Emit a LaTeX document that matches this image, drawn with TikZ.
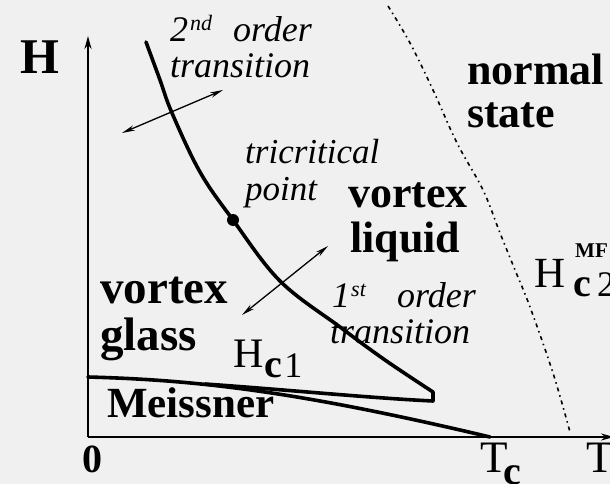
\documentclass[tikz,border=0pt]{standalone}
\usepackage{fontspec}
\setmainfont{Liberation Serif}
\usetikzlibrary{arrows.meta}
\definecolor{bgcol}{RGB}{240,240,240}
\begin{document}
\begin{tikzpicture}[x=1pt,y=-1pt,
  axisline/.style={line width=1.8pt, -{Stealth[length=13pt,width=7pt]}},
  transline/.style={line width=3.6pt, line join=round, line cap=round},
  hcline/.style={line width=3.6pt, line cap=round},
  dblarrow/.style={line width=1.3pt, {Stealth[length=13pt,width=5.5pt]}-{Stealth[length=13pt,width=5.5pt]}},
  mfline/.style={line width=1.6pt, dash pattern=on 4pt off 4pt on 1.5pt off 4pt},
  boldlbl/.style={anchor=base west, inner sep=0pt, font=\fontsize{44}{48}\selectfont\bfseries},
  itlbl/.style={anchor=base west, inner sep=0pt, font=\fontsize{36}{40}\selectfont\itshape},
  mathlbl/.style={anchor=base west, inner sep=0pt, font=\fontsize{44}{48}\selectfont}]
\fill[bgcol] (0,0) rectangle (610,484);
\useasboundingbox (0,0) rectangle (610,484);

% axes
\coordinate (origin) at (88,437);
\coordinate (htop) at (88,36);
\coordinate (tright) at (614,437);
\draw[axisline] (origin) -- (htop);
\draw[axisline] (origin) -- (tright);

% mean-field Hc2 (dotted)
\draw[mfline] plot[smooth, tension=0.6] coordinates {(388,6) (410,43) (433,90) (457,143) (483,190) (500,233) (515,270) (530,307) (553,373) (570,432)};

% Hc1 line
\coordinate (hc1start) at (88,377);
\coordinate (tc) at (490,437);
\draw[hcline] (hc1start) .. controls (200,380) and (300,392) .. (tc);

% melting / transition line with re-entrant tip
\coordinate (tip) at (433,392);
\coordinate (tipb) at (433,401);
\coordinate (merge) at (205,384);
\draw[transline] plot[smooth, tension=0.6] coordinates {(146,42) (160,80) (172,113) (200,172) (233,220) (280,281) (340,327) (385,360) (tip)} -- (tipb) .. controls (370,398) and (290,390) .. (merge);

% tricritical point
\coordinate (tcp) at (233,220);
\fill (tcp) circle (6);

% double arrows
\coordinate (a1) at (122,133);
\coordinate (a2) at (223,90);
\draw[dblarrow] (a1) -- (a2);
\coordinate (b1) at (242,315);
\coordinate (b2) at (328,246);
\draw[dblarrow] (b1) -- (b2);

% axis labels
\node[anchor=base west, inner sep=0pt, font=\fontsize{50}{55}\selectfont\bfseries] (hlab) at (20,74) {H};
\node[anchor=base west, inner sep=0pt, font=\fontsize{40}{44}\selectfont\bfseries] (zero) at (82,472) {0};
\node[anchor=base west, inner sep=0pt, font=\fontsize{45}{48}\selectfont] (tclab) at (480,472) {T\kern-4pt\raisebox{-12pt}{\fontsize{40}{44}\selectfont\bfseries c}};
\node[anchor=base west, inner sep=0pt, font=\fontsize{45}{48}\selectfont] (tlab) at (586,472) {T};

% region labels
\node[boldlbl] (normal) at (467,85) {normal};
\node[boldlbl] (state) at (467,128) {state};
\node[boldlbl] (vliq) at (348,207) {vortex};
\node[boldlbl] (liquid) at (350,252) {liquid};
\node[boldlbl, font=\fontsize{47}{50}\selectfont\bfseries] (vgl) at (100,303) {vortex};
\node[boldlbl, font=\fontsize{47}{50}\selectfont\bfseries] (glass) at (100,350) {glass};
\node[boldlbl, font=\fontsize{43}{46}\selectfont\bfseries] (meissner) at (107,417) {Meissner};

% Hc1 label
\node[mathlbl, font=\fontsize{42}{46}\selectfont] (hc1lab) at (233,367) {H\kern1pt\raisebox{-10pt}{{\fontsize{40}{44}\selectfont\bfseries c}\kern2pt{\fontsize{36}{40}\selectfont 1}}};

% Hc2 MF label
\node[mathlbl, font=\fontsize{43}{46}\selectfont] (hc2lab) at (534,287) {H};
\node[anchor=base west, inner sep=0pt, font=\fontsize{40}{44}\selectfont\bfseries] (hc2c) at (573,296) {c};
\node[anchor=base west, inner sep=0pt, font=\fontsize{36}{40}\selectfont] (hc2two) at (597,296) {2};
\node[anchor=base west, inner sep=0pt, font=\fontsize{21}{24}\selectfont\bfseries] (hc2mf) at (575,257) {MF};

% transition labels
\node[itlbl] (second) at (170,42) {2};
\node[anchor=base west, inner sep=0pt, font=\fontsize{22}{24}\selectfont\itshape] (nd) at (190,31) {nd};
\node[itlbl] (order2) at (233,42) {order};
\node[itlbl] (trans2) at (170,78) {transition};

\node[itlbl, font=\fontsize{35}{38}\selectfont\itshape] (tricrit) at (245,163) {tricritical};
\node[itlbl, font=\fontsize{35}{38}\selectfont\itshape] (point) at (245,200) {point};

\node[itlbl] (first) at (332,307) {1};
\node[anchor=base west, inner sep=0pt, font=\fontsize{22}{24}\selectfont\itshape] (st) at (351,296) {st};
\node[itlbl] (order1) at (397,307) {order};
\node[itlbl] (trans1) at (330,343) {transition};
\end{tikzpicture}
\end{document}
